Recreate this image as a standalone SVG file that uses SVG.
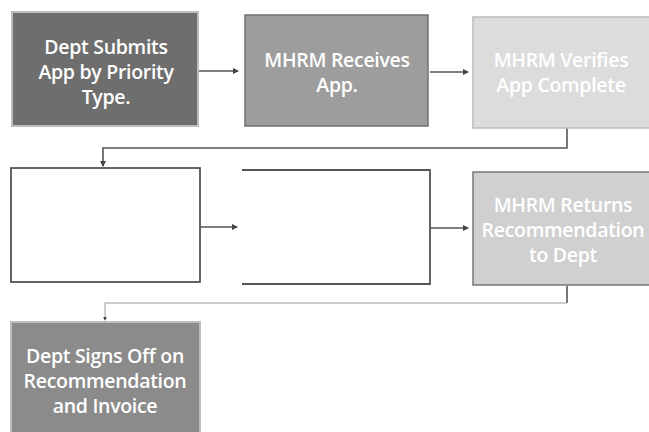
<svg xmlns="http://www.w3.org/2000/svg" width="649" height="432" viewBox="0 0 649 432">
<defs>
<style>
.t{font-family:"Open Sans","Liberation Sans",sans-serif;font-weight:600;font-size:19.5px;fill:#ffffff;text-anchor:middle;letter-spacing:-0.3px}
.c{fill:none;stroke:#555;stroke-width:1.6}
</style>
<marker id="ah" viewBox="0 0 6 6" refX="5" refY="3" markerWidth="4" markerHeight="4" orient="auto"><path d="M0,0L6,3L0,6z" fill="#444"/></marker>
</defs>
<rect width="649" height="432" fill="#ffffff"/>
<g id="connectors">
<path class="c" d="M198,71H238" marker-end="url(#ah)"/>
<path class="c" d="M430,72H468" marker-end="url(#ah)"/>
<path class="c" d="M567,128V148H103V166" marker-end="url(#ah)"/>
<path class="c" d="M200,227H237" marker-end="url(#ah)"/>
<path class="c" d="M430,228H468" marker-end="url(#ah)"/>
<path class="c" d="M567,286V303" />
<path d="M567,303H105V320" fill="none" stroke="#999" stroke-width="1" marker-end="url(#ah)"/>
</g>
<g id="n1">
<rect x="12" y="12" width="186" height="114" fill="#6e6e6e" stroke="#bdbdbd" stroke-width="2"/>
<text class="t" x="106" y="54">Dept Submits</text>
<text class="t" x="106" y="79">App by Priority</text>
<text class="t" x="106" y="104">Type.</text>
</g>
<g id="n2">
<rect x="245" y="15" width="183" height="111" fill="#9d9d9d" stroke="#707070" stroke-width="1.5"/>
<text class="t" x="337" y="67">MHRM Receives</text>
<text class="t" x="337" y="92">App.</text>
</g>
<g id="n3">
<rect x="473" y="17" width="178" height="111" fill="#dcdcdc" stroke="#bbbbbb" stroke-width="1.5"/>
<text class="t" x="561" y="67" fill="#f6f6f6">MHRM Verifies</text>
<text class="t" x="561" y="92" fill="#f6f6f6">App Complete</text>
</g>
<g id="n4">
<rect x="11" y="168" width="189" height="114" fill="#ffffff" stroke="#555" stroke-width="1.8"/>
</g>
<g id="n5">
<rect x="242" y="170" width="188" height="114" fill="#ffffff"/>
<path d="M242,170H430V284H242" fill="none" stroke="#555" stroke-width="1.8"/>
</g>
<g id="n6">
<rect x="473" y="172" width="178" height="113" fill="#d0d0d0" stroke="#777" stroke-width="1.5"/>
<text class="t" x="563" y="212">MHRM Returns</text>
<text class="t" x="563" y="237">Recommendation</text>
<text class="t" x="563" y="262">to Dept</text>
</g>
<g id="n7">
<rect x="11" y="322" width="189" height="112" fill="#8b8b8b" stroke="#bdbdbd" stroke-width="2"/>
<text class="t" x="105" y="363">Dept Signs Off on</text>
<text class="t" x="105" y="388">Recommendation</text>
<text class="t" x="105" y="413">and Invoice</text>
</g>
</svg>
